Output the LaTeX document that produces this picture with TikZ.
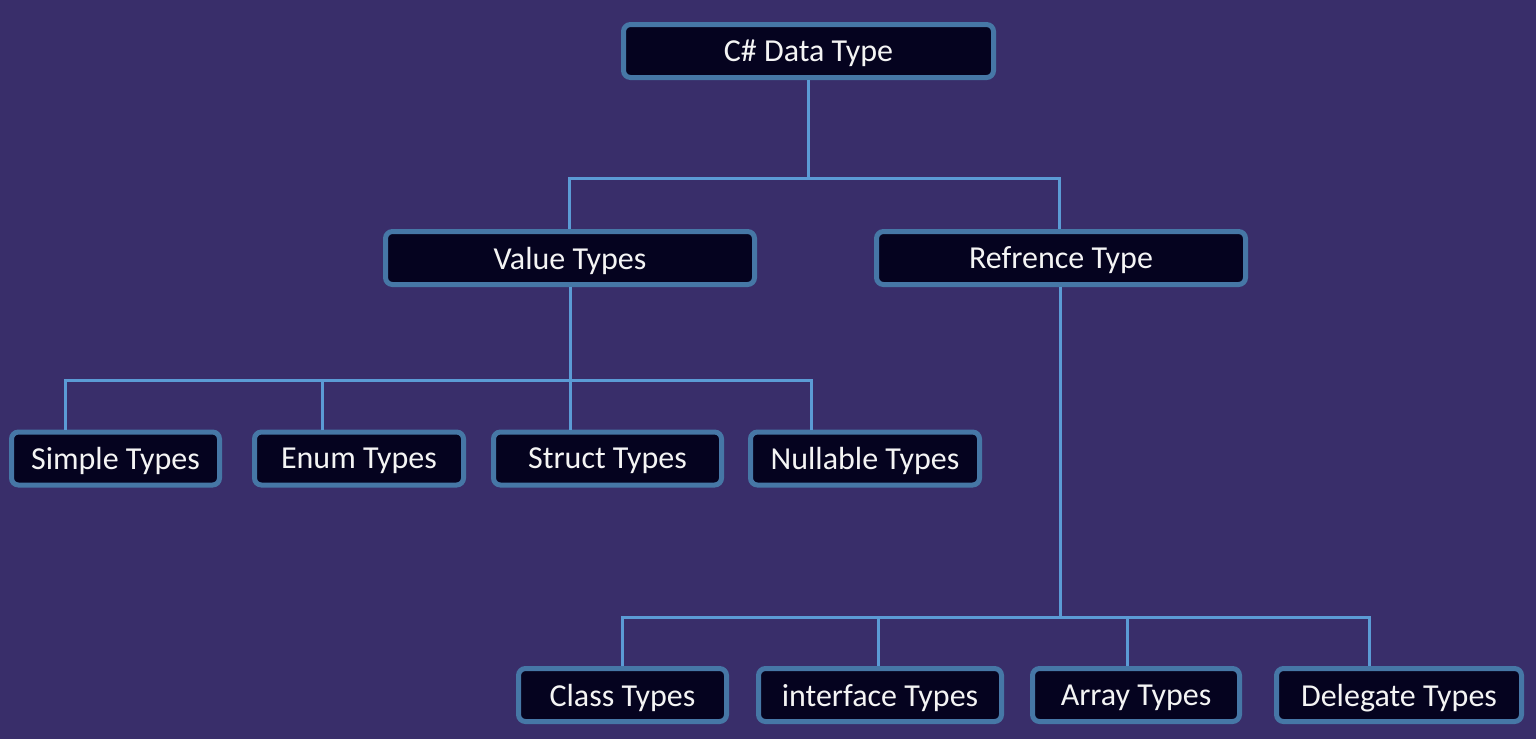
\documentclass[tikz,border=0pt]{standalone}
\usepackage{fontspec}
\setmainfont{Carlito}
\definecolor{bgpurple}{HTML}{392E6A}
\definecolor{boxfill}{HTML}{05031F}
\definecolor{boxedge}{HTML}{4677A6}
\definecolor{linkblue}{HTML}{5B9BD5}
\definecolor{labeltext}{HTML}{F4F4F4}
\begin{document}
\begin{tikzpicture}[x=1pt,y=-1pt,
  tbox/.style={draw=boxedge, fill=boxfill, line width=5pt, rounded corners=7pt,
    minimum height=53pt, inner sep=0pt, text=labeltext,
    text depth=0pt, font=\fontsize{32}{36}\selectfont},
  link/.style={draw=linkblue, line width=3pt}]
  % canvas
  \fill[bgpurple] (0,0) rectangle (1536,739);
  \useasboundingbox (0,0) rectangle (1536,739);

  % junction points of the three horizontal buses
  \coordinate (busA) at (808.5,178);
  \coordinate (busB) at (570,380);
  \coordinate (busC) at (1060,617);

  % nodes
  \node[tbox, minimum width=370pt] (root) at (808.5,51) {C\# Data Type};
  \node[tbox, minimum width=369pt] (val)  at (570,258) {Value Types};
  \node[tbox, minimum width=369pt] (ref)  at (1061,258) {Refrence Type};

  \node[tbox, minimum width=208pt] (sim) at (115.5,458.5) {Simple Types};
  \node[tbox, minimum width=209pt] (enu) at (359,458.5) {Enum Types};
  \node[tbox, minimum width=228pt] (str) at (607.5,458.5) {Struct Types};
  \node[tbox, minimum width=229pt] (nul) at (865,458.5) {Nullable Types};

  \node[tbox, minimum width=208pt] (cls) at (622.5,695) {Class Types};
  \node[tbox, minimum width=243pt] (ifc) at (880,695) {interface Types};
  \node[tbox, minimum width=207pt] (arr) at (1136,695) {Array Types};
  \node[tbox, minimum width=245pt] (dlg) at (1399,695) {Delegate Types};

  % root -> value / reference
  \draw[link] (root.south) -- (busA);
  \draw[link] ([xshift=-1pt]val.north) |- (busA);
  \draw[link] ([xshift=-2pt]ref.north) |- (busA);

  % value types
  \draw[link] (val.south) -- (busB);
  \draw[link] ([xshift=-50.5pt]sim.north) |- (busB);
  \draw[link] ([xshift=-37pt]enu.north) |- (busB);
  \draw[link] ([xshift=-37.5pt]str.north) |- (busB);
  \draw[link] ([xshift=-54pt]nul.north) |- (busB);

  % reference types
  \draw[link] ([xshift=-1pt]ref.south) -- (busC);
  \draw[link] ([xshift=-0.5pt]cls.north) |- (busC);
  \draw[link] ([xshift=-2pt]ifc.north) |- (busC);
  \draw[link] ([xshift=-9pt]arr.north) |- (busC);
  \draw[link] ([xshift=-30pt]dlg.north) |- (busC);
\end{tikzpicture}
\end{document}
